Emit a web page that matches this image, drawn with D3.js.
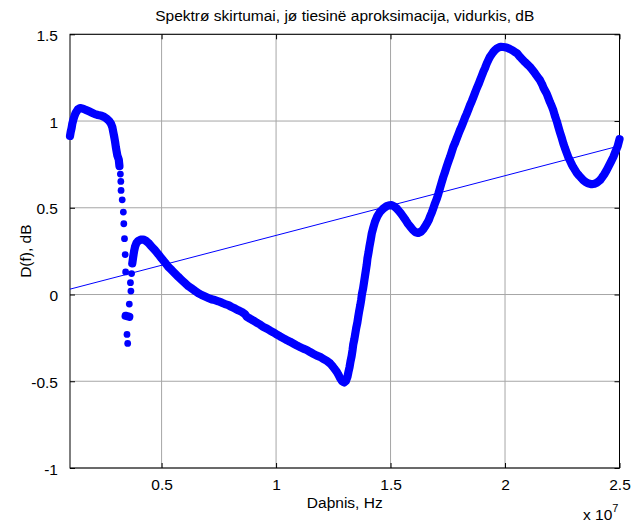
<!DOCTYPE html>
<html><head><meta charset="utf-8">
<script src="https://cdn.jsdelivr.net/npm/d3@7/dist/d3.min.js"></script>
<style>body{margin:0;background:#fff}svg{display:block}text{font-family:"Liberation Sans",Arial,sans-serif;fill:#000}</style>
</head><body><svg id="c" width="632" height="523"></svg>
<script>
// frequency in units of 10^7 Hz, D(f) in dB
const freq = [
0.100,0.103,0.107,0.110,0.114,0.119,0.124,0.135,0.144,0.157,0.170,0.183,0.196,0.209,0.222,0.238,0.249,0.260,0.270,0.279,0.285,0.289,0.293,0.297,0.300,0.304,0.307,
0.313,0.316,0.320,0.322,0.323,0.328,0.333,0.335,0.338,0.341,0.343,
0.359,0.343,0.359,0.349,0.352,
0.366,0.364,0.369,0.372,0.376,0.380,0.384,0.390,0.398,0.409,0.420,0.431,0.442,0.456,0.471,0.486,0.500,0.515,0.529,0.544,0.559,0.573,0.588,0.602,0.617,0.632,0.646,0.660,0.675,0.690,0.704,0.719,0.733,0.748,0.763,0.777,0.792,0.805,0.821,0.835,0.850,0.864,0.872,
0.886,0.901,0.915,0.930,0.944,0.959,0.974,0.988,1.003,1.017,1.032,1.047,1.061,1.076,1.090,1.105,1.119,1.134,1.148,1.163,1.178,1.192,1.207,1.221,1.236,1.246,1.256,1.265,1.273,1.280,1.288,1.297,
1.305,1.312,1.316,1.321,1.325,1.330,1.334,1.337,1.342,1.346,1.350,1.355,1.359,1.363,1.368,1.372,1.375,1.380,1.384,1.388,1.392,1.396,1.399,1.404,1.408,1.413,1.418,1.425,1.432,1.442,1.454,1.468,1.483,1.494,1.505,1.516,1.527,1.536,1.546,1.556,1.566,1.576,1.587,1.598,1.609,1.621,1.633,1.643,1.650,1.659,1.667,1.672,1.680,1.687,1.694,1.702,1.709,1.716,1.723,1.730,1.738,1.745,1.752,1.760,1.767,1.774,1.782,1.789,1.796,1.803,1.811,1.818,1.825,1.833,1.840,1.847,1.855,1.862,1.869,1.876,1.884,1.891,1.898,1.905,1.913,1.920,1.927,1.934,1.942,1.949,1.956,1.965,1.974,1.983,1.991,2.000,2.009,2.020,2.031,2.041,2.052,2.066,2.076,2.087,2.098,2.109,2.120,2.131,2.142,2.153,2.162,2.168,2.175,2.182,2.189,2.196,2.204,2.211,2.218,2.226,2.233,2.240,2.248,2.255,2.262,2.269,2.276,2.284,2.291,2.298,2.306,2.314,2.323,2.333,2.342,2.352,2.362,2.378,2.391,2.403,2.415,2.424,2.434,2.444,2.453,2.463,2.473,2.482,2.492,2.500
];
const dB = [
0.914,0.937,0.960,0.984,1.005,1.027,1.045,1.068,1.075,1.071,1.064,1.056,1.048,1.040,1.035,1.030,1.024,1.014,1.002,0.985,0.964,0.937,0.910,0.880,0.852,0.822,0.800,
0.778,0.740,0.694,0.652,0.600,0.546,0.475,0.408,0.322,0.230,0.130,
-0.055,-0.123,-0.128,-0.230,-0.282,
0.020,0.068,0.121,0.179,0.217,0.250,0.275,0.296,0.309,0.316,0.317,0.310,0.298,0.277,0.256,0.232,0.208,0.184,0.160,0.141,0.121,0.102,0.083,0.066,0.048,0.035,0.021,0.008,-0.003,-0.012,-0.020,-0.028,-0.032,-0.039,-0.047,-0.055,-0.061,-0.071,-0.081,-0.091,-0.100,-0.113,-0.128,
-0.139,-0.150,-0.162,-0.173,-0.186,-0.196,-0.208,-0.218,-0.230,-0.241,-0.252,-0.263,-0.272,-0.283,-0.293,-0.303,-0.312,-0.320,-0.331,-0.342,-0.352,-0.359,-0.371,-0.382,-0.397,-0.412,-0.429,-0.445,-0.464,-0.483,-0.499,-0.507,
-0.499,-0.473,-0.447,-0.418,-0.387,-0.355,-0.320,-0.289,-0.257,-0.225,-0.194,-0.162,-0.128,-0.096,-0.061,-0.029,0.002,0.034,0.069,0.103,0.138,0.172,0.207,0.243,0.277,0.313,0.352,0.387,0.419,0.450,0.476,0.495,0.509,0.514,0.515,0.508,0.496,0.482,0.466,0.448,0.429,0.408,0.390,0.372,0.359,0.355,0.362,0.376,0.390,0.410,0.429,0.448,0.472,0.498,0.525,0.552,0.581,0.613,0.645,0.676,0.707,0.736,0.764,0.793,0.822,0.851,0.875,0.899,0.923,0.947,0.971,0.995,1.019,1.043,1.067,1.091,1.115,1.139,1.163,1.187,1.211,1.235,1.259,1.283,1.307,1.331,1.351,1.370,1.385,1.398,1.409,1.419,1.425,1.428,1.427,1.425,1.422,1.416,1.409,1.400,1.391,1.369,1.355,1.340,1.326,1.312,1.294,1.275,1.255,1.235,1.212,1.192,1.175,1.158,1.134,1.110,1.086,1.062,1.030,0.999,0.966,0.935,0.902,0.870,0.843,0.818,0.793,0.771,0.751,0.734,0.717,0.700,0.686,0.672,0.659,0.649,0.641,0.636,0.639,0.646,0.659,0.675,0.694,0.717,0.740,0.766,0.793,0.823,0.855,0.895
];
// linear approximation
const fitFreq = [0.1, 2.5];
const fitDb = [0.031, 0.857];
const xTicks = [0.5, 1, 1.5, 2, 2.5];
const yTicks = [-1, -0.5, 0, 0.5, 1, 1.5];
const xTickLabels = ["0.5", "1", "1.5", "2", "2.5"];
const yTickLabels = ["-1", "-0.5", "0", "0.5", "1", "1.5"];
const title = "Spektrø skirtumai, jø tiesinë aproksimacija, vidurkis, dB";
const xLabel = "Daþnis, Hz";
const yLabel = "D(f), dB";

const L = 70, R = 619.5, T = 34.3, B = 468;
const svg = d3.select("#c");
const x = d3.scaleLinear().domain([0.1, 2.5]).range([L, R]);
const y = d3.scaleLinear().domain([-1, 1.5]).range([B, T]);
const FS = 15.5;

// grid
const g = svg.append("g");
g.selectAll(".gx").data(xTicks).enter().append("line")
 .attr("x1", d => x(d)).attr("x2", d => x(d)).attr("y1", T).attr("y2", B)
 .attr("stroke", "#a6a6a6").attr("stroke-width", 1);
g.selectAll(".gy").data(yTicks).enter().append("line")
 .attr("y1", d => y(d)).attr("y2", d => y(d)).attr("x1", L).attr("x2", R)
 .attr("stroke", "#a6a6a6").attr("stroke-width", 1);

// axes (ticks inside) on all four sides
const tl = 5;
svg.append("g").attr("transform", `translate(0,${B})`)
 .call(d3.axisBottom(x).tickValues(xTicks).tickSize(-tl).tickFormat((d,i)=>xTickLabels[i]).tickPadding(11))
 .call(a => { a.select(".domain").remove(); a.selectAll("text").attr("font-size", FS).attr("font-family","Liberation Sans, Arial"); a.selectAll("line").attr("stroke","#000"); });
svg.append("g").attr("transform", `translate(0,${T})`)
 .call(d3.axisTop(x).tickValues(xTicks).tickSize(-tl).tickFormat(""))
 .call(a => { a.select(".domain").remove(); a.selectAll("line").attr("stroke","#000"); });
svg.append("g").attr("transform", `translate(${L},0)`)
 .call(d3.axisLeft(y).tickValues(yTicks).tickSize(-tl).tickFormat((d,i)=>yTickLabels[i]).tickPadding(12))
 .call(a => { a.select(".domain").remove(); a.selectAll("text").attr("font-size", FS).attr("font-family","Liberation Sans, Arial").attr("dy","0.4em"); a.selectAll("line").attr("stroke","#000"); });
svg.append("g").attr("transform", `translate(${R},0)`)
 .call(d3.axisRight(y).tickValues(yTicks).tickSize(-tl).tickFormat(""))
 .call(a => { a.select(".domain").remove(); a.selectAll("line").attr("stroke","#000"); });

svg.append("rect").attr("x", L).attr("y", T).attr("width", R - L).attr("height", B - T)
 .attr("fill", "none").attr("stroke", "#000").attr("stroke-width", 1);

// fit line
svg.append("path").datum(fitFreq.map((f,i)=>[f, fitDb[i]]))
 .attr("d", d3.line().x(d => x(d[0])).y(d => y(d[1])))
 .attr("fill", "none").attr("stroke", "#0000ff").attr("stroke-width", 1);

// markers: dense runs drawn as thick stroke joining neighbouring markers
const pts = freq.map((f,i)=>[x(f), y(dB[i])]);
const runs = []; let cur = [pts[0]];
for (let i = 1; i < pts.length; i++) {
  const dx = pts[i][0]-pts[i-1][0], dy = pts[i][1]-pts[i-1][1];
  if (Math.hypot(dx,dy) < 7.2) cur.push(pts[i]); else { runs.push(cur); cur = [pts[i]]; }
}
runs.push(cur);
svg.append("g").selectAll("path").data(runs.filter(r => r.length > 1)).enter().append("path")
 .attr("d", d3.line()).attr("fill", "none").attr("stroke", "#0000ff")
 .attr("stroke-width", 8.2).attr("stroke-linejoin", "round").attr("stroke-linecap", "round");
svg.append("g").selectAll("circle").data(pts).enter().append("circle")
 .attr("cx", d => d[0]).attr("cy", d => d[1]).attr("r", 3.4).attr("fill", "#0000ff");

// texts
svg.append("text").attr("x", (L+R)/2).attr("y", 21).attr("text-anchor","middle").attr("font-size", FS).text(title);
svg.append("text").attr("x", (L+R)/2).attr("y", 508).attr("text-anchor","middle").attr("font-size", FS).text(xLabel);
svg.append("text").attr("transform", `translate(31,${(T+B)/2}) rotate(-90)`).attr("text-anchor","middle").attr("font-size", FS).text(yLabel);
const ex = svg.append("text").attr("x", 583).attr("y", 520).attr("font-size", FS);
ex.append("tspan").text("x 10");
ex.append("tspan").attr("dy", -8).attr("font-size", 11).text("7");
</script></body></html>
